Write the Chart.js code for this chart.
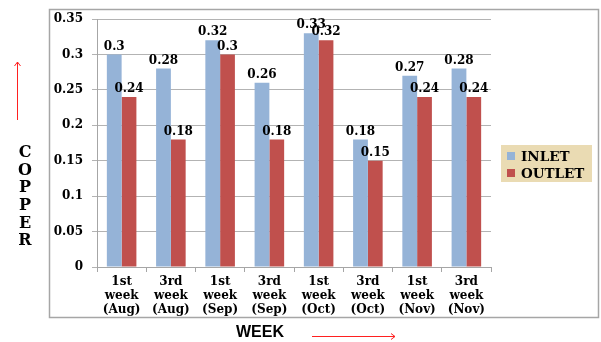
<html>
<head>
  <meta charset="utf-8">
  <script src="https://cdn.jsdelivr.net/npm/chart.js@4.4.0/dist/chart.umd.min.js"></script>
  <style>
    body { margin: 0; background: #fff; }
    #wrap { width: 601px; height: 342px; }
  </style>
</head>
<body>
<div id="wrap"><canvas id="canvas"></canvas></div>
<script>
// chart data
var weeks = [
  ['1st', 'week', '(Aug)'], ['3rd', 'week', '(Aug)'],
  ['1st', 'week', '(Sep)'], ['3rd', 'week', '(Sep)'],
  ['1st', 'week', '(Oct)'], ['3rd', 'week', '(Oct)'],
  ['1st', 'week', '(Nov)'], ['3rd', 'week', '(Nov)']
];
var inlet = [0.3, 0.28, 0.32, 0.26, 0.33, 0.18, 0.27, 0.28];
var outlet = [0.24, 0.18, 0.3, 0.18, 0.32, 0.15, 0.24, 0.24];
var seriesNames = ['INLET', 'OUTLET'];
var yTitle = 'COPPER';
var xTitle = 'WEEK';

var serif = '"DejaVu Serif", serif';
var blue = '#95b3d7';
var red = '#c0504d';

// frame, labels, titles, legend
var extras = {
  id: 'extras',
  beforeDraw: function(chart) {
    var c = chart.ctx;
    c.save();
    c.fillStyle = '#fff';
    c.fillRect(0, 0, chart.width, chart.height);
    c.strokeStyle = '#a6a6a6';
    c.lineWidth = 1.5;
    c.strokeRect(49.5, 9.5, 549, 308);
    c.restore();
  },
  afterDatasetsDraw: function(chart) {
    var c = chart.ctx;
    c.save();
    c.font = 'bold 12px ' + serif;
    c.fillStyle = '#000';
    c.textAlign = 'center';
    c.textBaseline = 'bottom';
    chart.data.datasets.forEach(function(ds, i) {
      chart.getDatasetMeta(i).data.forEach(function(bar, j) {
        c.fillText(String(ds.data[j]), bar.x, bar.y - 2);
      });
    });
    c.restore();
  },
  afterDraw: function(chart) {
    var c = chart.ctx;
    c.save();
    // y title, stacked letters
    c.font = 'bold 16px ' + serif;
    c.fillStyle = '#000';
    c.textAlign = 'center';
    c.textBaseline = 'middle';
    for (var k = 0; k < yTitle.length; k++) {
      c.fillText(yTitle[k], 25, 153 + k * 17.6);
    }
    // x title
    c.font = 'bold 16px "Liberation Sans", Arial, sans-serif';
    c.fillText(xTitle, 260, 333);
    // arrows
    c.strokeStyle = '#ff2020';
    c.lineWidth = 1;
    c.beginPath();
    c.moveTo(17.5, 120); c.lineTo(17.5, 62);
    c.moveTo(14.5, 66); c.lineTo(17.5, 62); c.lineTo(20.5, 66);
    c.moveTo(312, 336.5); c.lineTo(395, 336.5);
    c.moveTo(391, 333.5); c.lineTo(395, 336.5); c.lineTo(391, 339.5);
    c.stroke();
    // legend box
    c.fillStyle = '#eadbb3';
    c.fillRect(501, 145, 91, 37);
    c.font = 'bold 13.5px ' + serif;
    c.textAlign = 'left';
    var cols = [blue, red];
    for (var i = 0; i < seriesNames.length; i++) {
      var y = 156 + i * 17;
      c.fillStyle = cols[i];
      c.fillRect(507, y - 4, 8, 8);
      c.fillStyle = '#000';
      c.fillText(seriesNames[i], 521, y + 1);
    }
    c.restore();
  }
};

new Chart(document.getElementById('canvas'), {
  type: 'bar',
  data: {
    labels: weeks,
    datasets: [
      { label: seriesNames[0], data: inlet, backgroundColor: blue },
      { label: seriesNames[1], data: outlet, backgroundColor: red }
    ]
  },
  options: {
    responsive: true,
    maintainAspectRatio: false,
    animation: false,
    devicePixelRatio: 1,
    layout: { padding: { left: 49, top: 19, right: 110, bottom: 24 } },
    datasets: { bar: { categoryPercentage: 0.6, barPercentage: 1 } },
    plugins: { legend: { display: false }, tooltip: { enabled: false } },
    scales: {
      x: {
        afterFit: function(s) { s.height = 51; },
        grid: { drawOnChartArea: false, drawTicks: true, tickLength: 5, color: '#a6a6a6' },
        border: { color: '#a6a6a6' },
        ticks: { color: '#000', font: { family: serif, size: 12, weight: 'bold', lineHeight: 1.15 }, maxRotation: 0, padding: 3 }
      },
      y: {
        min: 0, max: 0.35,
        afterFit: function(s) { s.width = 48; },
        grid: { color: '#b3b3b3', tickLength: 5 },
        border: { color: '#a6a6a6' },
        ticks: { stepSize: 0.05, color: '#000', padding: 9,
          font: { family: serif, size: 12, weight: 'bold' },
          callback: function(v) { return String(Math.round(v * 100) / 100); } }
      }
    }
  },
  plugins: [extras]
});
</script>
</body>
</html>
